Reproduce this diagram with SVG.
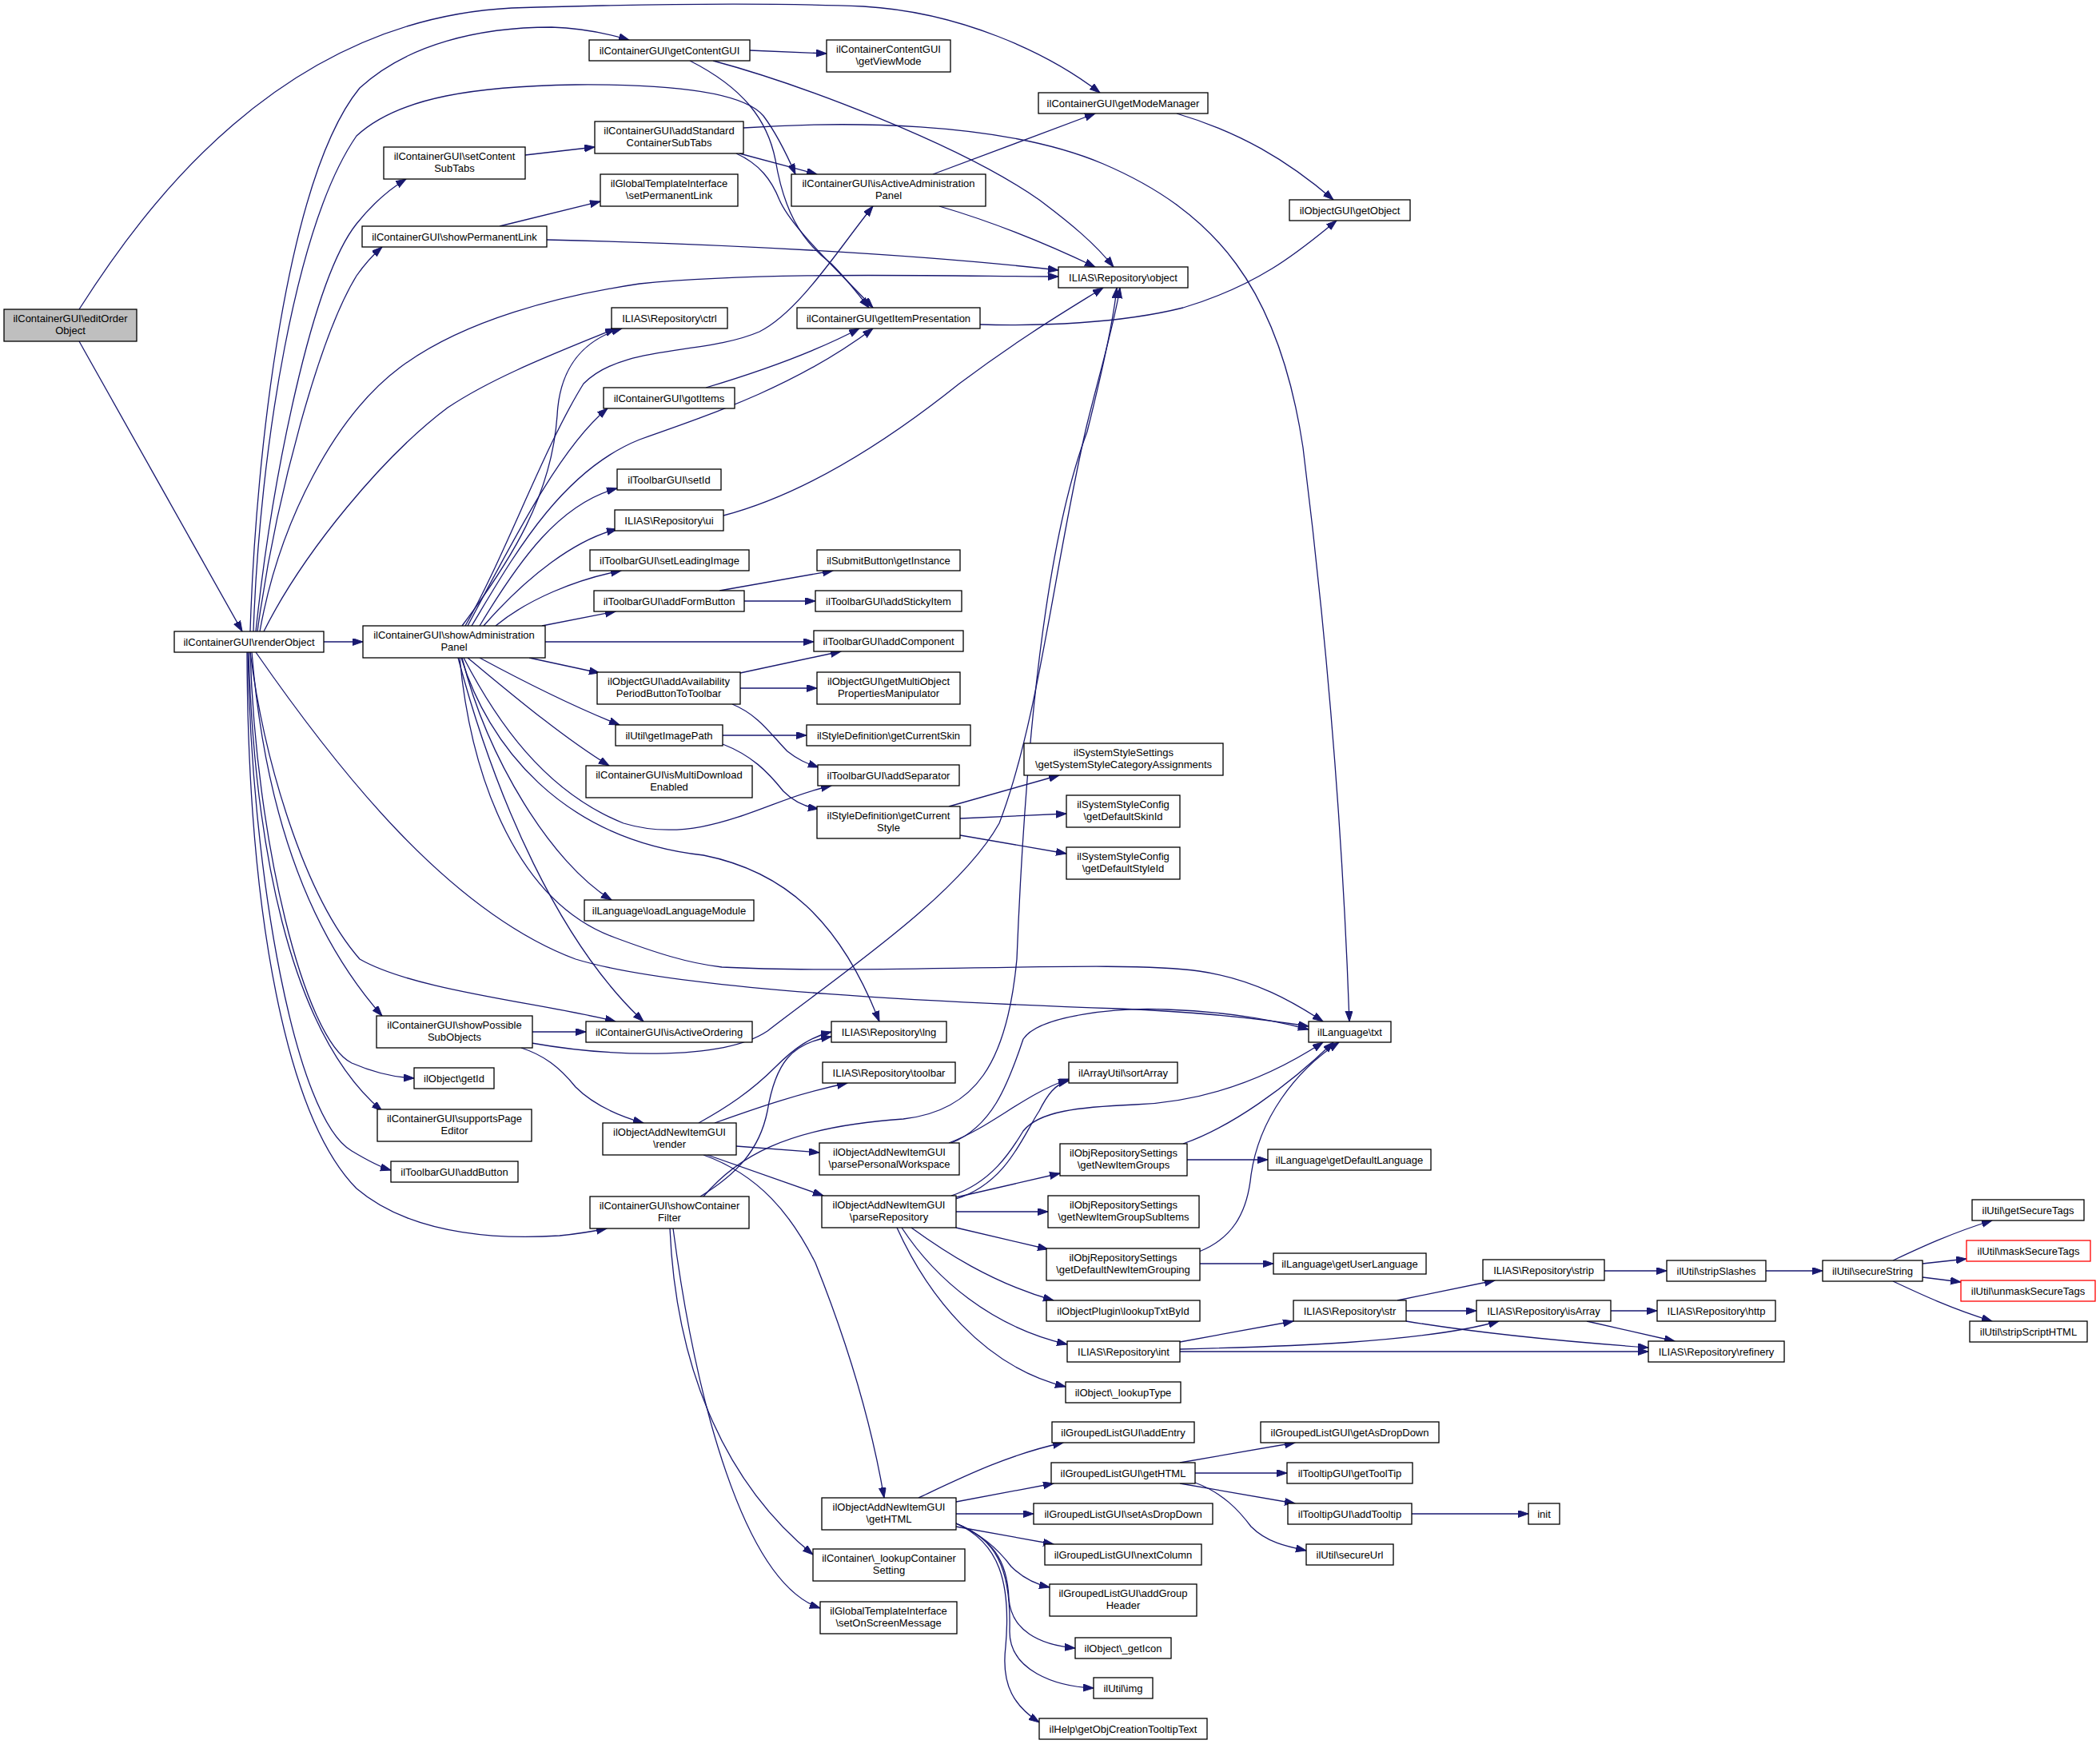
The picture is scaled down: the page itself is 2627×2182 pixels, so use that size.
<svg xmlns="http://www.w3.org/2000/svg" width="2627" height="2182" viewBox="0 0 2627 2182">
<defs>
<marker id="a" markerUnits="userSpaceOnUse" markerWidth="14" markerHeight="10" refX="13" refY="4.5" orient="auto" viewBox="0 0 14 10"><path d="M0,0 L13,4.5 L0,9 z" fill="#191970" stroke="#191970" stroke-width="1"/></marker>
<style>
.node rect{fill:#fff;stroke:#000;stroke-width:1.3}
.root rect{fill:#bfbfbf}
.red rect{stroke:#ff0000}
text{font-family:"Liberation Sans",Arial,Helvetica,sans-serif;font-size:13px;text-anchor:middle;fill:#000}
.e path{fill:none;stroke:#191970;stroke-width:1.3;marker-end:url(#a)}
</style>
</defs>
<rect width="2627" height="2182" fill="#fff"/>
<g id="edges" class="e">
<path d="M99,387 C180,260 350,25 640,10 C800,5 960,3 1080,8 C1200,15 1310,65 1376,116"/>
<path d="M99,427 L303,790"/>
<path d="M313,790 C320,560 360,220 450,110 C510,55 600,34 690,34 C730,35 760,42 787,50"/>
<path d="M317,790 C325,560 370,280 446,170 C500,120 600,108 720,106 C840,105 930,115 955,145 C970,165 985,195 995,218"/>
<path d="M320,790 C340,600 390,350 446,280 C470,250 490,235 508,224"/>
<path d="M322,790 C345,620 400,420 446,345 C460,325 470,316 478,309"/>
<path d="M325,790 C350,650 420,520 500,460 C580,400 700,370 800,355 C950,340 1150,345 1324,346"/>
<path d="M330,790 C380,690 480,570 560,510 C620,470 700,440 770,411"/>
<path d="M405,803 L454,803"/>
<path d="M320,816 C420,960 560,1140 720,1200 C850,1240 1200,1255 1400,1262 C1500,1266 1580,1275 1637,1284"/>
<path d="M313,816 C330,950 380,1120 450,1200 C520,1240 680,1255 770,1278"/>
<path d="M315,816 C330,1000 380,1160 478,1271"/>
<path d="M313,816 C320,1050 380,1300 440,1330 C470,1343 495,1348 518,1349"/>
<path d="M311,816 C318,1050 360,1290 478,1390"/>
<path d="M310,816 C315,1100 370,1400 440,1440 C460,1452 475,1460 489,1464"/>
<path d="M309,816 C310,1150 360,1400 446,1487 C520,1550 640,1550 700,1546 C720,1544 740,1541 759,1537"/>
<path d="M625,283 L751,252"/>
<path d="M684,300 C900,305 1150,318 1324,338"/>
<path d="M657,194 L744,184"/>
<path d="M938,63 L1034,67"/>
<path d="M863,76 C930,110 960,150 970,200 C980,260 1000,300 1040,330 C1060,350 1075,370 1087,385"/>
<path d="M921,192 C950,205 965,225 975,250 C990,285 1050,340 1092,385"/>
<path d="M925,192 L1022,218"/>
<path d="M930,160 C1050,152 1250,150 1380,205 C1520,265 1600,360 1630,560 C1660,800 1680,1050 1688,1278"/>
<path d="M1167,218 L1370,142"/>
<path d="M1175,258 C1250,280 1320,310 1370,334"/>
<path d="M892,76 C1000,105 1200,180 1300,250 C1340,280 1370,305 1393,334"/>
<path d="M1472,142 C1550,165 1610,200 1668,250"/>
<path d="M1226,406 C1300,408 1400,405 1480,385 C1580,355 1630,310 1672,276"/>
<path d="M578,783 C640,700 690,620 697,520 C700,460 730,425 778,411"/>
<path d="M582,783 C630,700 680,560 730,480 C780,430 880,445 950,415 C1000,390 1050,310 1092,258"/>
<path d="M585,783 C640,680 700,560 760,511"/>
<path d="M590,783 C640,700 700,590 800,550 C900,515 1000,480 1092,411"/>
<path d="M600,783 C650,700 700,630 772,611"/>
<path d="M605,783 C660,720 720,675 772,662"/>
<path d="M620,783 C660,750 720,725 777,714"/>
<path d="M678,783 L770,765"/>
<path d="M682,803 L1018,803"/>
<path d="M662,823 L750,842"/>
<path d="M600,823 C650,850 720,885 775,907"/>
<path d="M585,823 C630,860 700,920 762,958"/>
<path d="M580,823 C620,900 680,990 780,1030 C880,1060 960,1000 1040,983"/>
<path d="M578,823 C610,950 690,1080 765,1126"/>
<path d="M577,823 C610,930 700,1050 880,1070 C980,1090 1050,1150 1100,1278"/>
<path d="M575,823 C590,980 650,1130 769,1173 C820,1192 860,1205 903,1210 C1100,1220 1400,1200 1500,1215 C1570,1225 1620,1255 1655,1278"/>
<path d="M573,823 C620,1000 700,1180 805,1278"/>
<path d="M883,485 C950,465 1020,440 1075,411"/>
<path d="M905,645 C1000,620 1100,560 1200,480 C1280,420 1340,385 1380,360"/>
<path d="M900,739 L1042,714"/>
<path d="M931,752 L1020,752"/>
<path d="M926,842 L1052,815"/>
<path d="M926,861 L1022,861"/>
<path d="M916,881 C950,895 965,920 985,940 C1000,952 1010,955 1024,960"/>
<path d="M904,920 L1009,920"/>
<path d="M904,931 C940,945 960,965 980,990 C995,1005 1010,1010 1024,1012"/>
<path d="M1187,1009 L1325,970"/>
<path d="M1201,1024 L1334,1018"/>
<path d="M1201,1045 L1334,1068"/>
<path d="M665,1291 L733,1291"/>
<path d="M665,1305 C750,1320 900,1330 960,1290 C1050,1220 1200,1120 1250,1030 C1300,900 1320,700 1360,530 C1380,450 1395,400 1401,360"/>
<path d="M880,1497 C920,1450 980,1410 1130,1400 C1220,1390 1260,1330 1272,1200 C1280,1000 1300,700 1360,540 C1380,460 1393,400 1397,360"/>
<path d="M652,1311 C680,1320 700,1335 720,1360 C740,1380 770,1395 805,1405"/>
<path d="M874,1405 C910,1385 940,1365 970,1335 C995,1310 1015,1297 1040,1291"/>
<path d="M876,1497 C920,1470 950,1440 960,1390 C970,1330 990,1305 1040,1297"/>
<path d="M894,1405 C950,1385 1000,1368 1060,1355"/>
<path d="M921,1434 L1025,1442"/>
<path d="M885,1445 L1030,1496"/>
<path d="M880,1445 C950,1470 990,1520 1020,1580 C1060,1680 1090,1780 1106,1874"/>
<path d="M838,1537 C845,1700 900,1850 1017,1945"/>
<path d="M842,1537 C870,1750 930,1980 1026,2012"/>
<path d="M1187,1430 C1240,1410 1280,1370 1337,1350"/>
<path d="M1196,1500 C1260,1480 1280,1420 1300,1390 C1310,1370 1320,1356 1337,1352"/>
<path d="M1190,1430 C1240,1410 1260,1360 1280,1300 C1300,1270 1400,1260 1460,1263 C1540,1266 1600,1278 1637,1288"/>
<path d="M1190,1496 C1240,1480 1265,1440 1280,1415 C1300,1390 1350,1385 1420,1382 C1520,1378 1600,1340 1655,1304"/>
<path d="M1196,1498 L1326,1468"/>
<path d="M1196,1516 L1311,1516"/>
<path d="M1196,1536 L1311,1563"/>
<path d="M1140,1536 C1180,1565 1240,1605 1318,1627"/>
<path d="M1128,1536 C1170,1600 1240,1660 1335,1682"/>
<path d="M1122,1536 C1160,1620 1230,1710 1333,1735"/>
<path d="M1480,1431 C1540,1410 1610,1360 1668,1304"/>
<path d="M1485,1451 L1586,1451"/>
<path d="M1500,1566 C1540,1550 1560,1520 1565,1470 C1575,1400 1620,1340 1675,1304"/>
<path d="M1501,1581 L1593,1581"/>
<path d="M1476,1679 L1618,1653"/>
<path d="M1476,1688 C1600,1685 1780,1680 1875,1653"/>
<path d="M1476,1691 L2062,1691"/>
<path d="M1748,1627 L1870,1602"/>
<path d="M1759,1640 L1847,1640"/>
<path d="M1759,1653 C1850,1668 1950,1678 2062,1686"/>
<path d="M2007,1590 L2085,1590"/>
<path d="M2015,1640 L2073,1640"/>
<path d="M1985,1653 L2095,1678"/>
<path d="M2209,1590 L2280,1590"/>
<path d="M2368,1577 C2400,1562 2440,1543 2492,1527"/>
<path d="M2405,1581 L2460,1575"/>
<path d="M2405,1598 L2453,1604"/>
<path d="M2368,1603 C2400,1618 2440,1637 2492,1653"/>
<path d="M1149,1874 C1200,1850 1260,1820 1330,1805"/>
<path d="M1196,1879 L1318,1856"/>
<path d="M1196,1894 L1293,1894"/>
<path d="M1196,1910 L1318,1932"/>
<path d="M1196,1906 C1230,1920 1250,1940 1265,1960 C1280,1975 1295,1982 1313,1986"/>
<path d="M1196,1906 C1240,1925 1260,1950 1262,2000 C1265,2040 1300,2058 1345,2062"/>
<path d="M1196,1906 C1245,1925 1265,1960 1263,2040 C1262,2090 1320,2110 1368,2112"/>
<path d="M1196,1906 C1250,1930 1265,1980 1258,2060 C1252,2110 1270,2135 1300,2155"/>
<path d="M1476,1830 L1620,1805"/>
<path d="M1495,1843 L1610,1843"/>
<path d="M1476,1856 L1620,1881"/>
<path d="M1495,1855 C1530,1868 1550,1890 1565,1910 C1585,1930 1610,1935 1634,1940"/>
<path d="M1766,1894 L1912,1894"/>
</g>
<g id="n_editOrderObject" class="node root"><rect x="5" y="387" width="166" height="40"/><text x="88" y="402.5">ilContainerGUI\editOrder</text><text x="88" y="417.5">Object</text></g>
<g id="n_renderObject" class="node"><rect x="218" y="790" width="187" height="26"/><text x="311.5" y="807.5">ilContainerGUI\renderObject</text></g>
<g id="n_setContentSubTabs" class="node"><rect x="480" y="184" width="177" height="40"/><text x="568.5" y="199.5">ilContainerGUI\setContent</text><text x="568.5" y="214.5">SubTabs</text></g>
<g id="n_showPermanentLink" class="node"><rect x="453" y="283" width="231" height="26"/><text x="568.5" y="300.5">ilContainerGUI\showPermanentLink</text></g>
<g id="n_showAdministrationPanel" class="node"><rect x="454" y="783" width="228" height="40"/><text x="568" y="798.5">ilContainerGUI\showAdministration</text><text x="568" y="813.5">Panel</text></g>
<g id="n_showPossibleSubObjects" class="node"><rect x="471" y="1271" width="195" height="40"/><text x="568.5" y="1286.5">ilContainerGUI\showPossible</text><text x="568.5" y="1301.5">SubObjects</text></g>
<g id="n_getId" class="node"><rect x="518" y="1336" width="100" height="26"/><text x="568" y="1353.5">ilObject\getId</text></g>
<g id="n_supportsPageEditor" class="node"><rect x="472" y="1388" width="193" height="40"/><text x="568.5" y="1403.5">ilContainerGUI\supportsPage</text><text x="568.5" y="1418.5">Editor</text></g>
<g id="n_addButton" class="node"><rect x="489" y="1453" width="159" height="26"/><text x="568.5" y="1470.5">ilToolbarGUI\addButton</text></g>
<g id="n_getContentGUI" class="node"><rect x="737" y="50" width="201" height="26"/><text x="837.5" y="67.5">ilContainerGUI\getContentGUI</text></g>
<g id="n_addStandardContainerSubTabs" class="node"><rect x="744" y="152" width="186" height="40"/><text x="837" y="167.5">ilContainerGUI\addStandard</text><text x="837" y="182.5">ContainerSubTabs</text></g>
<g id="n_setPermanentLink" class="node"><rect x="751" y="218" width="172" height="40"/><text x="837" y="233.5">ilGlobalTemplateInterface</text><text x="837" y="248.5">\setPermanentLink</text></g>
<g id="n_ctrl" class="node"><rect x="765" y="385" width="145" height="26"/><text x="837.5" y="402.5">ILIAS\Repository\ctrl</text></g>
<g id="n_gotItems" class="node"><rect x="755" y="485" width="164" height="26"/><text x="837" y="502.5">ilContainerGUI\gotItems</text></g>
<g id="n_setId" class="node"><rect x="772" y="587" width="130" height="26"/><text x="837" y="604.5">ilToolbarGUI\setId</text></g>
<g id="n_ui" class="node"><rect x="769" y="638" width="136" height="26"/><text x="837" y="655.5">ILIAS\Repository\ui</text></g>
<g id="n_setLeadingImage" class="node"><rect x="738" y="688" width="199" height="26"/><text x="837.5" y="705.5">ilToolbarGUI\setLeadingImage</text></g>
<g id="n_addFormButton" class="node"><rect x="743" y="739" width="188" height="26"/><text x="837" y="756.5">ilToolbarGUI\addFormButton</text></g>
<g id="n_addAvailabilityPeriodButtonToToolbar" class="node"><rect x="747" y="841" width="179" height="40"/><text x="836.5" y="856.5">ilObjectGUI\addAvailability</text><text x="836.5" y="871.5">PeriodButtonToToolbar</text></g>
<g id="n_getImagePath" class="node"><rect x="770" y="907" width="134" height="26"/><text x="837" y="924.5">ilUtil\getImagePath</text></g>
<g id="n_isMultiDownloadEnabled" class="node"><rect x="733" y="958" width="208" height="40"/><text x="837" y="973.5">ilContainerGUI\isMultiDownload</text><text x="837" y="988.5">Enabled</text></g>
<g id="n_loadLanguageModule" class="node"><rect x="731" y="1126" width="212" height="26"/><text x="837" y="1143.5">ilLanguage\loadLanguageModule</text></g>
<g id="n_isActiveOrdering" class="node"><rect x="733" y="1278" width="208" height="26"/><text x="837" y="1295.5">ilContainerGUI\isActiveOrdering</text></g>
<g id="n_addNewItemRender" class="node"><rect x="754" y="1405" width="167" height="40"/><text x="837.5" y="1420.5">ilObjectAddNewItemGUI</text><text x="837.5" y="1435.5">\render</text></g>
<g id="n_showContainerFilter" class="node"><rect x="738" y="1497" width="199" height="40"/><text x="837.5" y="1512.5">ilContainerGUI\showContainer</text><text x="837.5" y="1527.5">Filter</text></g>
<g id="n_getViewMode" class="node"><rect x="1034" y="50" width="155" height="40"/><text x="1111.5" y="65.5">ilContainerContentGUI</text><text x="1111.5" y="80.5">\getViewMode</text></g>
<g id="n_isActiveAdministrationPanel" class="node"><rect x="990" y="218" width="243" height="40"/><text x="1111.5" y="233.5">ilContainerGUI\isActiveAdministration</text><text x="1111.5" y="248.5">Panel</text></g>
<g id="n_getItemPresentation" class="node"><rect x="997" y="385" width="229" height="26"/><text x="1111.5" y="402.5">ilContainerGUI\getItemPresentation</text></g>
<g id="n_getInstance" class="node"><rect x="1022" y="688" width="179" height="26"/><text x="1111.5" y="705.5">ilSubmitButton\getInstance</text></g>
<g id="n_addStickyItem" class="node"><rect x="1020" y="739" width="183" height="26"/><text x="1111.5" y="756.5">ilToolbarGUI\addStickyItem</text></g>
<g id="n_addComponent" class="node"><rect x="1018" y="789" width="187" height="26"/><text x="1111.5" y="806.5">ilToolbarGUI\addComponent</text></g>
<g id="n_getMultiObjectPropertiesManipulator" class="node"><rect x="1022" y="841" width="179" height="40"/><text x="1111.5" y="856.5">ilObjectGUI\getMultiObject</text><text x="1111.5" y="871.5">PropertiesManipulator</text></g>
<g id="n_getCurrentSkin" class="node"><rect x="1009" y="907" width="205" height="26"/><text x="1111.5" y="924.5">ilStyleDefinition\getCurrentSkin</text></g>
<g id="n_addSeparator" class="node"><rect x="1023" y="957" width="177" height="26"/><text x="1111.5" y="974.5">ilToolbarGUI\addSeparator</text></g>
<g id="n_getCurrentStyle" class="node"><rect x="1022" y="1009" width="179" height="40"/><text x="1111.5" y="1024.5">ilStyleDefinition\getCurrent</text><text x="1111.5" y="1039.5">Style</text></g>
<g id="n_lng" class="node"><rect x="1040" y="1278" width="144" height="26"/><text x="1112" y="1295.5">ILIAS\Repository\lng</text></g>
<g id="n_toolbar" class="node"><rect x="1029" y="1329" width="166" height="26"/><text x="1112" y="1346.5">ILIAS\Repository\toolbar</text></g>
<g id="n_parsePersonalWorkspace" class="node"><rect x="1025" y="1430" width="175" height="40"/><text x="1112.5" y="1445.5">ilObjectAddNewItemGUI</text><text x="1112.5" y="1460.5">\parsePersonalWorkspace</text></g>
<g id="n_parseRepository" class="node"><rect x="1028" y="1496" width="168" height="40"/><text x="1112" y="1511.5">ilObjectAddNewItemGUI</text><text x="1112" y="1526.5">\parseRepository</text></g>
<g id="n_addNewItemGetHTML" class="node"><rect x="1028" y="1874" width="168" height="40"/><text x="1112" y="1889.5">ilObjectAddNewItemGUI</text><text x="1112" y="1904.5">\getHTML</text></g>
<g id="n_lookupContainerSetting" class="node"><rect x="1017" y="1938" width="190" height="40"/><text x="1112" y="1953.5">ilContainer\_lookupContainer</text><text x="1112" y="1968.5">Setting</text></g>
<g id="n_setOnScreenMessage" class="node"><rect x="1026" y="2004" width="171" height="40"/><text x="1111.5" y="2019.5">ilGlobalTemplateInterface</text><text x="1111.5" y="2034.5">\setOnScreenMessage</text></g>
<g id="n_getModeManager" class="node"><rect x="1299" y="116" width="212" height="26"/><text x="1405" y="133.5">ilContainerGUI\getModeManager</text></g>
<g id="n_object" class="node"><rect x="1324" y="334" width="162" height="26"/><text x="1405" y="351.5">ILIAS\Repository\object</text></g>
<g id="n_getSystemStyleCategoryAssignments" class="node"><rect x="1281" y="930" width="249" height="40"/><text x="1405.5" y="945.5">ilSystemStyleSettings</text><text x="1405.5" y="960.5">\getSystemStyleCategoryAssignments</text></g>
<g id="n_getDefaultSkinId" class="node"><rect x="1334" y="995" width="142" height="40"/><text x="1405" y="1010.5">ilSystemStyleConfig</text><text x="1405" y="1025.5">\getDefaultSkinId</text></g>
<g id="n_getDefaultStyleId" class="node"><rect x="1334" y="1060" width="142" height="40"/><text x="1405" y="1075.5">ilSystemStyleConfig</text><text x="1405" y="1090.5">\getDefaultStyleId</text></g>
<g id="n_sortArray" class="node"><rect x="1337" y="1329" width="136" height="26"/><text x="1405" y="1346.5">ilArrayUtil\sortArray</text></g>
<g id="n_getNewItemGroups" class="node"><rect x="1326" y="1431" width="159" height="40"/><text x="1405.5" y="1446.5">ilObjRepositorySettings</text><text x="1405.5" y="1461.5">\getNewItemGroups</text></g>
<g id="n_getNewItemGroupSubItems" class="node"><rect x="1311" y="1496" width="189" height="40"/><text x="1405.5" y="1511.5">ilObjRepositorySettings</text><text x="1405.5" y="1526.5">\getNewItemGroupSubItems</text></g>
<g id="n_getDefaultNewItemGrouping" class="node"><rect x="1309" y="1562" width="192" height="40"/><text x="1405" y="1577.5">ilObjRepositorySettings</text><text x="1405" y="1592.5">\getDefaultNewItemGrouping</text></g>
<g id="n_lookupTxtById" class="node"><rect x="1309" y="1627" width="192" height="26"/><text x="1405" y="1644.5">ilObjectPlugin\lookupTxtById</text></g>
<g id="n_int" class="node"><rect x="1335" y="1678" width="141" height="26"/><text x="1405.5" y="1695.5">ILIAS\Repository\int</text></g>
<g id="n_lookupType" class="node"><rect x="1333" y="1729" width="144" height="26"/><text x="1405" y="1746.5">ilObject\_lookupType</text></g>
<g id="n_addEntry" class="node"><rect x="1316" y="1779" width="178" height="26"/><text x="1405" y="1796.5">ilGroupedListGUI\addEntry</text></g>
<g id="n_groupedGetHTML" class="node"><rect x="1315" y="1830" width="180" height="26"/><text x="1405" y="1847.5">ilGroupedListGUI\getHTML</text></g>
<g id="n_setAsDropDown" class="node"><rect x="1293" y="1881" width="224" height="26"/><text x="1405" y="1898.5">ilGroupedListGUI\setAsDropDown</text></g>
<g id="n_nextColumn" class="node"><rect x="1307" y="1932" width="196" height="26"/><text x="1405" y="1949.5">ilGroupedListGUI\nextColumn</text></g>
<g id="n_addGroupHeader" class="node"><rect x="1313" y="1982" width="184" height="40"/><text x="1405" y="1997.5">ilGroupedListGUI\addGroup</text><text x="1405" y="2012.5">Header</text></g>
<g id="n_getIcon" class="node"><rect x="1345" y="2049" width="120" height="26"/><text x="1405" y="2066.5">ilObject\_getIcon</text></g>
<g id="n_img" class="node"><rect x="1368" y="2099" width="74" height="26"/><text x="1405" y="2116.5">ilUtil\img</text></g>
<g id="n_getObjCreationTooltipText" class="node"><rect x="1300" y="2150" width="210" height="26"/><text x="1405" y="2167.5">ilHelp\getObjCreationTooltipText</text></g>
<g id="n_getObject" class="node"><rect x="1613" y="250" width="151" height="26"/><text x="1688.5" y="267.5">ilObjectGUI\getObject</text></g>
<g id="n_txt" class="node"><rect x="1637" y="1278" width="103" height="26"/><text x="1688.5" y="1295.5">ilLanguage\txt</text></g>
<g id="n_getDefaultLanguage" class="node"><rect x="1586" y="1438" width="204" height="26"/><text x="1688" y="1455.5">ilLanguage\getDefaultLanguage</text></g>
<g id="n_getUserLanguage" class="node"><rect x="1593" y="1568" width="191" height="26"/><text x="1688.5" y="1585.5">ilLanguage\getUserLanguage</text></g>
<g id="n_str" class="node"><rect x="1618" y="1627" width="141" height="26"/><text x="1688.5" y="1644.5">ILIAS\Repository\str</text></g>
<g id="n_getAsDropDown" class="node"><rect x="1577" y="1779" width="223" height="26"/><text x="1688.5" y="1796.5">ilGroupedListGUI\getAsDropDown</text></g>
<g id="n_getToolTip" class="node"><rect x="1610" y="1830" width="157" height="26"/><text x="1688.5" y="1847.5">ilTooltipGUI\getToolTip</text></g>
<g id="n_addTooltip" class="node"><rect x="1611" y="1881" width="155" height="26"/><text x="1688.5" y="1898.5">ilTooltipGUI\addTooltip</text></g>
<g id="n_secureUrl" class="node"><rect x="1634" y="1932" width="109" height="26"/><text x="1688.5" y="1949.5">ilUtil\secureUrl</text></g>
<g id="n_strip" class="node"><rect x="1855" y="1576" width="152" height="26"/><text x="1931" y="1593.5">ILIAS\Repository\strip</text></g>
<g id="n_isArray" class="node"><rect x="1847" y="1627" width="168" height="26"/><text x="1931" y="1644.5">ILIAS\Repository\isArray</text></g>
<g id="n_init" class="node"><rect x="1912" y="1881" width="39" height="26"/><text x="1931.5" y="1898.5">init</text></g>
<g id="n_stripSlashes" class="node"><rect x="2085" y="1577" width="124" height="26"/><text x="2147" y="1594.5">ilUtil\stripSlashes</text></g>
<g id="n_http" class="node"><rect x="2073" y="1627" width="148" height="26"/><text x="2147" y="1644.5">ILIAS\Repository\http</text></g>
<g id="n_refinery" class="node"><rect x="2062" y="1678" width="170" height="26"/><text x="2147" y="1695.5">ILIAS\Repository\refinery</text></g>
<g id="n_secureString" class="node"><rect x="2280" y="1577" width="125" height="26"/><text x="2342.5" y="1594.5">ilUtil\secureString</text></g>
<g id="n_getSecureTags" class="node"><rect x="2467" y="1501" width="140" height="26"/><text x="2537" y="1518.5">ilUtil\getSecureTags</text></g>
<g id="n_maskSecureTags" class="node red"><rect x="2460" y="1552" width="155" height="26"/><text x="2537.5" y="1569.5">ilUtil\maskSecureTags</text></g>
<g id="n_unmaskSecureTags" class="node red"><rect x="2453" y="1602" width="168" height="26"/><text x="2537" y="1619.5">ilUtil\unmaskSecureTags</text></g>
<g id="n_stripScriptHTML" class="node"><rect x="2464" y="1653" width="147" height="26"/><text x="2537.5" y="1670.5">ilUtil\stripScriptHTML</text></g>
</svg>
